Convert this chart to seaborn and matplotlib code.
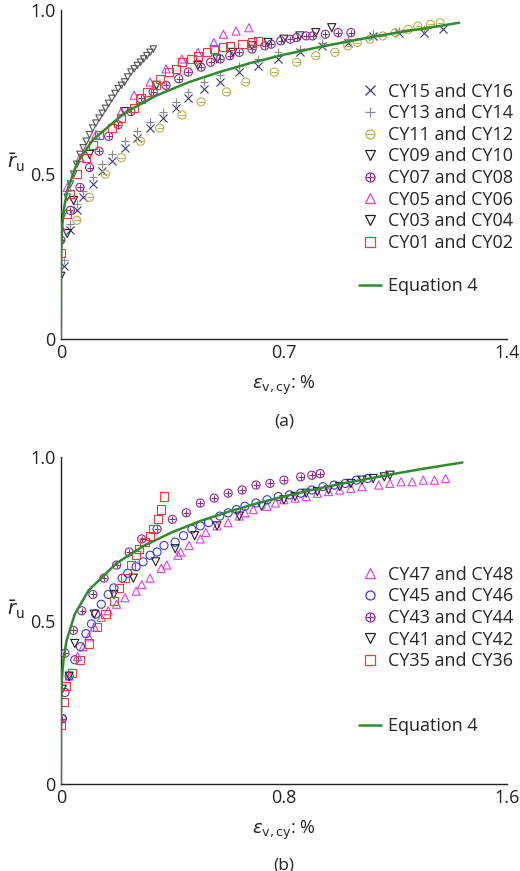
import matplotlib
matplotlib.use("Agg")
import matplotlib.pyplot as plt
import seaborn as sns
import numpy as np
from matplotlib.lines import Line2D

sns.set_style("white")
plt.rcParams['font.family'] = ['Open Sans', 'DejaVu Sans']
plt.rcParams['mathtext.fontset'] = 'dejavusans'

# ---------- Panel (a) data ----------
a_cy1516_x = [0.01,0.03,0.05,0.07,0.1,0.13,0.16,0.2,0.24,0.28,0.32,0.36,0.4,0.45,0.5,0.56,0.62,0.68,0.75,0.82,0.9,0.98,1.06,1.14,1.2]
a_cy1516_y = [0.22,0.33,0.39,0.43,0.47,0.51,0.54,0.58,0.61,0.64,0.67,0.70,0.73,0.76,0.78,0.81,0.83,0.85,0.87,0.89,0.90,0.92,0.93,0.93,0.94]
a_cy1314_x = [0.01,0.03,0.05,0.07,0.1,0.13,0.16,0.2,0.24,0.28,0.32,0.36,0.4,0.45,0.5,0.56,0.62,0.68,0.75,0.82,0.9,0.98,1.06,1.14]
a_cy1314_y = [0.24,0.35,0.41,0.45,0.49,0.53,0.56,0.60,0.63,0.66,0.69,0.72,0.75,0.78,0.80,0.83,0.85,0.87,0.88,0.90,0.91,0.925,0.935,0.94]
a_cy1112_x = [0.05,0.09,0.14,0.19,0.25,0.31,0.38,0.44,0.52,0.58,0.67,0.74,0.80,0.86,0.90,0.93,0.97,1.01,1.05,1.09,1.12,1.16,1.19]
a_cy1112_y = [0.36,0.43,0.50,0.55,0.60,0.64,0.68,0.72,0.75,0.78,0.81,0.84,0.86,0.87,0.89,0.90,0.91,0.92,0.93,0.94,0.95,0.955,0.96]
a_cy0910_x = [0.0,0.02,0.04,0.09,0.2,0.3,0.43,0.49,0.54,0.6,0.65,0.7,0.75,0.8,0.85]
a_cy0910_y = [0.19,0.32,0.42,0.56,0.69,0.77,0.83,0.85,0.87,0.89,0.90,0.91,0.92,0.93,0.945]
a_cy0708_x = [0.0,0.03,0.06,0.09,0.12,0.15,0.18,0.22,0.25,0.29,0.33,0.37,0.40,0.44,0.47,0.50,0.53,0.56,0.60,0.64,0.66,0.69,0.72,0.74,0.77,0.79,0.83,0.87,0.91]
a_cy0708_y = [0.30,0.39,0.46,0.52,0.57,0.615,0.65,0.69,0.73,0.75,0.77,0.79,0.81,0.825,0.84,0.85,0.86,0.87,0.88,0.89,0.895,0.905,0.91,0.915,0.92,0.92,0.925,0.93,0.93]
a_cy0506_x = [0.0,0.02,0.06,0.11,0.19,0.23,0.28,0.33,0.38,0.43,0.48,0.51,0.55,0.59]
a_cy0506_y = [0.34,0.46,0.55,0.62,0.69,0.74,0.78,0.82,0.85,0.87,0.90,0.925,0.935,0.945]
a_cy0304_x = [0.0,0.01,0.02,0.03,0.04,0.05,0.06,0.07,0.08,0.09,0.1,0.11,0.12,0.13,0.14,0.15,0.16,0.17,0.18,0.19,0.2,0.21,0.22,0.23,0.24,0.25,0.26,0.27,0.28,0.29]
a_cy0304_y = [0.29,0.38,0.43,0.47,0.5,0.53,0.56,0.58,0.6,0.62,0.64,0.655,0.67,0.685,0.70,0.715,0.73,0.745,0.76,0.77,0.78,0.795,0.81,0.82,0.83,0.84,0.85,0.86,0.87,0.88]
a_cy0102_x = [0.0,0.02,0.03,0.05,0.08,0.10,0.12,0.16,0.19,0.23,0.25,0.27,0.30,0.31,0.34,0.36,0.38,0.41,0.43,0.46,0.48,0.51,0.53,0.57,0.60,0.62]
a_cy0102_y = [0.26,0.38,0.44,0.50,0.55,0.59,0.62,0.64,0.67,0.70,0.73,0.75,0.77,0.79,0.81,0.82,0.84,0.85,0.86,0.87,0.88,0.885,0.89,0.895,0.90,0.905]
a_eq_x = [0,0.0005,0.002,0.005,0.01,0.02,0.05,0.1,0.2,0.3,0.4,0.5,0.6,0.7,0.8,0.9,1.0,1.1,1.2,1.25]
a_eq_y = [0,0.23,0.295,0.349,0.396,0.450,0.532,0.604,0.686,0.739,0.779,0.811,0.839,0.863,0.884,0.903,0.921,0.937,0.952,0.96]

# ---------- Panel (b) data ----------
b_cy4748_x = [0.0,0.03,0.06,0.08,0.1,0.12,0.145,0.17,0.2,0.23,0.27,0.29,0.32,0.36,0.38,0.42,0.43,0.46,0.5,0.52,0.56,0.6,0.64,0.66,0.69,0.74,0.77,0.8,0.84,0.88,0.92,0.96,1.0,1.04,1.08,1.14,1.18,1.22,1.26,1.3,1.34,1.38]
b_cy4748_y = [0.2,0.33,0.39,0.42,0.45,0.48,0.51,0.53,0.55,0.57,0.59,0.61,0.63,0.66,0.67,0.7,0.71,0.73,0.75,0.77,0.79,0.80,0.82,0.83,0.84,0.85,0.86,0.87,0.875,0.88,0.89,0.895,0.9,0.905,0.91,0.915,0.92,0.925,0.925,0.93,0.93,0.935]
b_cy4546_x = [0.005,0.015,0.03,0.05,0.07,0.09,0.11,0.125,0.145,0.17,0.19,0.22,0.24,0.27,0.295,0.32,0.345,0.37,0.41,0.44,0.47,0.5,0.53,0.57,0.6,0.63,0.66,0.7,0.74,0.78,0.82,0.86,0.9,0.94,0.98,1.02,1.06,1.1]
b_cy4546_y = [0.2,0.28,0.33,0.38,0.42,0.46,0.49,0.52,0.55,0.58,0.6,0.63,0.645,0.665,0.68,0.7,0.71,0.73,0.74,0.76,0.78,0.79,0.80,0.82,0.83,0.84,0.85,0.86,0.87,0.88,0.885,0.89,0.9,0.91,0.915,0.92,0.93,0.935]
b_cy4344_x = [0.005,0.015,0.045,0.075,0.115,0.155,0.2,0.245,0.29,0.345,0.4,0.45,0.5,0.55,0.6,0.65,0.7,0.75,0.8,0.86,0.9,0.93]
b_cy4344_y = [0.2,0.4,0.47,0.53,0.58,0.63,0.67,0.71,0.75,0.78,0.81,0.83,0.86,0.875,0.89,0.9,0.915,0.92,0.93,0.94,0.945,0.95]
b_cy4142_x = [0.005,0.03,0.05,0.12,0.19,0.26,0.34,0.41,0.48,0.56,0.64,0.72,0.8,0.84,0.88,0.92,0.96,1.0,1.04,1.08,1.12,1.16,1.18]
b_cy4142_y = [0.29,0.33,0.43,0.52,0.58,0.63,0.68,0.72,0.76,0.79,0.82,0.85,0.87,0.88,0.89,0.895,0.9,0.91,0.92,0.93,0.935,0.94,0.945]
b_cy3536_x = [0.0,0.01,0.02,0.04,0.07,0.1,0.13,0.16,0.19,0.21,0.23,0.25,0.27,0.28,0.3,0.32,0.33,0.35,0.36,0.37]
b_cy3536_y = [0.18,0.25,0.3,0.34,0.38,0.43,0.48,0.52,0.56,0.6,0.63,0.67,0.7,0.72,0.74,0.76,0.78,0.81,0.84,0.88]
b_eq_x = [0,0.0005,0.002,0.005,0.01,0.02,0.05,0.1,0.2,0.3,0.4,0.5,0.6,0.7,0.8,0.9,1.0,1.1,1.2,1.3,1.44]
b_eq_y = [0,0.217,0.282,0.335,0.383,0.437,0.520,0.593,0.676,0.730,0.771,0.805,0.833,0.858,0.88,0.900,0.918,0.934,0.950,0.965,0.984]

GREEN = '#2e8b2e'
NAVY = '#3a3a7a'; GRAY = '#8a8a9a'; OLIVE = '#b8b24a'; BLACK = '#222222'
PURPLE = '#8a2a8a'; MAGENTA = '#e040e0'; RED = '#e84040'; BLUE = '#3a3ae0'

def pts(ax, x, y, marker, color, size=34, lw=0.8, filled=False):
    fc = color if filled else 'none'
    if marker in ('x', '+', '_', '|'):
        sns.scatterplot(x=x, y=y, ax=ax, marker=marker, color=color, s=size, linewidth=lw, zorder=3)
    else:
        sns.scatterplot(x=x, y=y, ax=ax, marker=marker, facecolor=fc, edgecolor=color, s=size, linewidth=lw, zorder=3)

def combo(ax, x, y, inner, color, size=34):
    pts(ax, x, y, 'o', color, size)
    sns.scatterplot(x=x, y=y, ax=ax, marker=inner, color=color, s=size*0.7, linewidth=0.7, zorder=3)

def h(marker, color, ms=6.5):
    return Line2D([], [], ls='none', marker=marker, mec=color, mfc='none', color=color, ms=ms, mew=0.9)

def hc(inner, color):
    return (h('o', color), Line2D([], [], ls='none', marker=inner, color=color, ms=5.5, mew=0.8))

fig = plt.figure(figsize=(5.2, 8.71), dpi=100)
axA = fig.add_axes([0.117, 0.611, 0.858, 0.378])
axB = fig.add_axes([0.117, 0.100, 0.858, 0.375])

# Panel a
pts(axA, a_cy1516_x, a_cy1516_y, 'x', NAVY)
pts(axA, a_cy1314_x, a_cy1314_y, '+', GRAY)
combo(axA, a_cy1112_x, a_cy1112_y, '_', OLIVE)
pts(axA, a_cy0910_x, a_cy0910_y, 'v', BLACK)
combo(axA, a_cy0708_x, a_cy0708_y, '+', PURPLE)
pts(axA, a_cy0506_x, a_cy0506_y, '^', MAGENTA)
pts(axA, a_cy0304_x, a_cy0304_y, 'v', '#555555', size=22)
pts(axA, a_cy0102_x, a_cy0102_y, 's', RED)
sns.lineplot(x=a_eq_x, y=a_eq_y, ax=axA, color=GREEN, lw=1.8, sort=False, estimator=None, zorder=4)

# Panel b
pts(axB, b_cy4748_x, b_cy4748_y, '^', MAGENTA)
pts(axB, b_cy4546_x, b_cy4546_y, 'o', BLUE)
combo(axB, b_cy4344_x, b_cy4344_y, '+', PURPLE)
pts(axB, b_cy4142_x, b_cy4142_y, 'v', BLACK)
pts(axB, b_cy3536_x, b_cy3536_y, 's', RED)
sns.lineplot(x=b_eq_x, y=b_eq_y, ax=axB, color=GREEN, lw=1.8, sort=False, estimator=None, zorder=4)

blank = Line2D([], [], ls='none')
eqh = Line2D([], [], color=GREEN, lw=1.8)
legA_h = [h('x', NAVY), h('+', GRAY), hc('_', OLIVE), h('v', BLACK), hc('+', PURPLE), h('^', MAGENTA), h('v', BLACK), h('s', RED), blank, eqh]
legA_l = ['CY15 and CY16', 'CY13 and CY14', 'CY11 and CY12', 'CY09 and CY10', 'CY07 and CY08',
          'CY05 and CY06', 'CY03 and CY04', 'CY01 and CY02', '', 'Equation 4']
legB_h = [h('^', MAGENTA), h('o', BLUE), hc('+', PURPLE), h('v', BLACK), h('s', RED), blank, blank, eqh]
legB_l = ['CY47 and CY48', 'CY45 and CY46', 'CY43 and CY44', 'CY41 and CY42', 'CY35 and CY36', '', '', 'Equation 4']

for ax, hs, ls, xmax, xt, cap, lx, ly in [
        (axA, legA_h, legA_l, 1.4, [0, 0.35, 0.7, 1.05, 1.4], '(a)', 1.03, 0.80),
        (axB, legB_h, legB_l, 1.6, [0, 0.4, 0.8, 1.2, 1.6], '(b)', 1.03, 0.69)]:
    ax.set_xlim(0, xmax)
    ax.set_ylim(0, 1.0)
    ax.set_xticks(xt)
    ax.set_xticklabels(['0', '', f'{xt[2]:g}', '', f'{xt[4]:g}'])
    ax.set_yticks([0, 0.25, 0.5, 0.75, 1.0])
    ax.set_yticklabels(['0', '', '0.5', '', '1.0'])
    ax.tick_params(direction='in', length=7, width=1, labelsize=13, pad=4, colors='#222222')
    for s in ['top', 'right']:
        ax.spines[s].set_visible(False)
    for s in ['left', 'bottom']:
        ax.spines[s].set_color('#222222'); ax.spines[s].set_linewidth(1.0)
    ax.set_xlabel(r'$\varepsilon_{\mathrm{v,cy}}$: %', fontsize=13, labelpad=8)
    ax.set_ylabel(r'$\bar{r}_{\mathrm{u}}$', fontsize=14, rotation=0, labelpad=8)
    ax.yaxis.set_label_coords(-0.1, 0.5)
    ax.text(0.5, -0.25, cap, transform=ax.transAxes, ha='center', va='center', fontsize=12.5)
    ax.legend(hs, ls, loc='upper right', bbox_to_anchor=(lx, ly), frameon=False, fontsize=13,
              handlelength=1.2, handletextpad=0.4, labelspacing=0.2, borderaxespad=0)

fig.savefig('out.png', dpi=100)
